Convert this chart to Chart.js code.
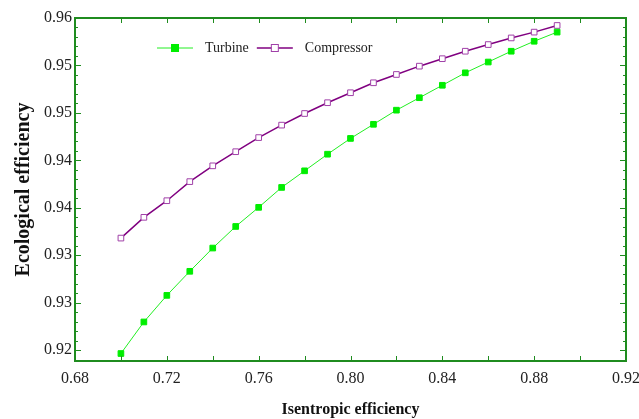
<!DOCTYPE html>
<html>
<head>
<meta charset="utf-8">
<script src="https://cdn.jsdelivr.net/npm/chart.js@4.4.1/dist/chart.umd.min.js"></script>
<style>
  html, body { margin: 0; padding: 0; background: #fff; }
  #wrap { width: 639px; height: 419px; }
</style>
</head>
<body>
<div id="wrap"><canvas id="myChart" width="639" height="419"></canvas></div>
<script>
// isentropic efficiency (x)
var efficiency = [0.70, 0.71, 0.72, 0.73, 0.74, 0.75, 0.76, 0.77, 0.78, 0.79,
                  0.80, 0.81, 0.82, 0.83, 0.84, 0.85, 0.86, 0.87, 0.88, 0.89];
// ecological efficiency
var turbine = [0.9196, 0.9234, 0.9266, 0.9295, 0.9323, 0.9349, 0.9372, 0.9396, 0.9416, 0.9436,
               0.9455, 0.9472, 0.9489, 0.9504, 0.9519, 0.9534, 0.9547, 0.9560, 0.9572, 0.9583];
var compressor = [0.9335, 0.9360, 0.9380, 0.9403, 0.9422, 0.9439, 0.9456, 0.9471, 0.9485, 0.9498,
                  0.9510, 0.9522, 0.9532, 0.9542, 0.9551, 0.9560, 0.9568, 0.9576, 0.9583, 0.9591];
var xTicks = [0.68, 0.72, 0.76, 0.80, 0.84, 0.88, 0.92];
var yTickLabels = ["0.92", "0.93", "0.93", "0.94", "0.94", "0.95", "0.95", "0.96"];

var yLow = 0.92, yHigh = 0.96;
var yStep = (yHigh - yLow) / (yTickLabels.length - 1);
var green = "#1f8c1f";
var serif = "'Liberation Serif', 'Times New Roman', serif";

function pts(ys) {
    return efficiency.map(function (x, i) { return { x: x, y: ys[i] }; });
}

// box round the plot with inward ticks on every side
var frame = {
    id: "frame",
    afterDatasetsDraw: function (chart) {
        var ctx = chart.ctx, a = chart.chartArea;
        var xs = chart.scales.x, ys = chart.scales.y;
        ctx.save();
        ctx.strokeStyle = green;
        ctx.lineWidth = 1;
        ctx.beginPath();
        for (var v = 0.68; v <= 0.9201; v += 0.02) {
            var px = Math.round(xs.getPixelForValue(v)) + 0.5;
            ctx.moveTo(px, a.bottom); ctx.lineTo(px, a.bottom - 5);
            ctx.moveTo(px, a.top); ctx.lineTo(px, a.top + 5);
        }
        for (var k = 0; k < yTickLabels.length; k++) {
            for (var m = 0; m < 5; m++) {
                var val = yLow + k * yStep + m * yStep / 5;
                if (val > yHigh + 1e-9) break;
                var py = Math.round(ys.getPixelForValue(val)) + 0.5;
                var len = m === 0 ? 6 : 3;
                ctx.moveTo(a.left, py); ctx.lineTo(a.left + len, py);
                ctx.moveTo(a.right, py); ctx.lineTo(a.right - len, py);
            }
        }
        ctx.stroke();
        ctx.lineWidth = 2;
        ctx.strokeRect(a.left, a.top, a.right - a.left, a.bottom - a.top);
        ctx.restore();
    },
    afterDraw: function (chart) {
        // legend inside the plot
        var ctx = chart.ctx;
        var x = 157, y = 48;
        ctx.save();
        ctx.font = "14px " + serif;
        ctx.textBaseline = "middle";
        chart.data.datasets.forEach(function (ds) {
            ctx.strokeStyle = ds.borderColor;
            ctx.lineWidth = ds.borderWidth;
            ctx.beginPath();
            ctx.moveTo(x, y); ctx.lineTo(x + 36, y);
            ctx.stroke();
            ctx.fillStyle = ds.pointBackgroundColor;
            ctx.strokeStyle = ds.pointBorderColor;
            ctx.lineWidth = 1;
            ctx.fillRect(x + 14.5, y - 3.5, 7, 7);
            ctx.strokeRect(x + 14.5, y - 3.5, 7, 7);
            ctx.fillStyle = "#222";
            ctx.fillText(ds.label, x + 48, y);
            x += 48 + ctx.measureText(ds.label).width + 8;
        });
        ctx.restore();
    }
};

var myChart = document.getElementById("myChart").getContext("2d");

var chart = new Chart(myChart, {
    type: "line",
    data: {
        datasets: [
            {
                label: "Turbine",
                data: pts(turbine),
                borderColor: "#22ee22",
                borderWidth: 1,
                pointStyle: "rect",
                pointRadius: 4,
                pointBackgroundColor: "#00ee00",
                pointBorderColor: "#00ee00",
                pointBorderWidth: 1,
                tension: 0
            },
            {
                label: "Compressor",
                data: pts(compressor),
                borderColor: "#800080",
                borderWidth: 1.5,
                pointStyle: "rect",
                pointRadius: 4,
                pointBackgroundColor: "#ffffff",
                pointBorderColor: "#a040a8",
                pointBorderWidth: 1,
                tension: 0
            }
        ]
    },
    options: {
        responsive: false,
        animation: false,
        layout: { padding: { top: 18, right: 13, left: 0, bottom: 0 } },
        plugins: { legend: { display: false }, tooltip: { enabled: false } },
        scales: {
            x: {
                type: "linear",
                min: 0.68,
                max: 0.92,
                afterBuildTicks: function (s) {
                    s.ticks = xTicks.map(function (v) { return { value: v }; });
                },
                afterFit: function (s) {
                    s.height = 58;
                    s.paddingLeft = 0;
                    s.paddingRight = 0;
                },
                grid: { display: false, drawTicks: false },
                border: { display: false },
                ticks: {
                    padding: 8,
                    color: "#222",
                    font: { family: serif, size: 16 },
                    callback: function (v) { return v.toFixed(2); }
                },
                title: {
                    display: true,
                    text: "Isentropic efficiency",
                    color: "#111",
                    font: { family: serif, size: 16, weight: "bold" },
                    padding: { top: 4, bottom: 0 }
                }
            },
            y: {
                min: 0.9187,
                max: yHigh,
                afterBuildTicks: function (s) {
                    s.ticks = yTickLabels.map(function (t, k) { return { value: yLow + k * yStep }; });
                },
                afterFit: function (s) {
                    s.width = 75;
                    s.paddingTop = 0;
                    s.paddingBottom = 0;
                },
                grid: { display: false, drawTicks: false },
                border: { display: false },
                ticks: {
                    padding: 3,
                    color: "#222",
                    font: { family: serif, size: 16 },
                    callback: function (v, i) { return yTickLabels[i]; }
                },
                title: {
                    display: true,
                    text: "Ecological efficiency",
                    color: "#111",
                    font: { family: serif, size: 20, weight: "bold" },
                    padding: { top: 12, bottom: 2 }
                }
            }
        }
    },
    plugins: [frame]
});
</script>
</body>
</html>
